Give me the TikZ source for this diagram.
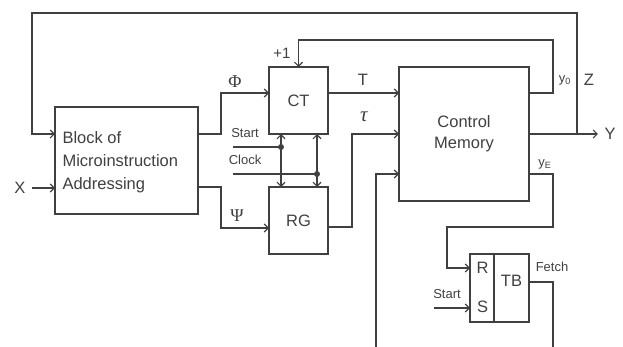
\documentclass[tikz,border=0pt]{standalone}
\usepackage{fontspec}
\setmainfont{Liberation Sans}
\newfontfamily\grkfont{Liberation Serif}
\usetikzlibrary{arrows.meta,calc,positioning}

\begin{document}
\begin{tikzpicture}[x=1pt,y=-1pt,>={Straight Barb[length=4pt,width=8pt]},
  line width=1.1pt,color=black!75,
  blk/.style={draw,minimum width=59pt,minimum height=67pt,inner sep=0pt,outer sep=0pt,
    font=\fontsize{16.5}{21}\selectfont},
  lbl/.style={inner sep=0pt,font=\fontsize{16.5}{21}\selectfont},
  grk/.style={inner sep=0pt,font=\grkfont\fontsize{18}{20}\selectfont},
  sml/.style={inner sep=0pt,font=\fontsize{13}{15}\selectfont}]
  \useasboundingbox (0,0) rectangle (623,347);
  % blocks
  \node[blk,minimum width=143pt,minimum height=107pt] (bma) at (126.5,160.5) {};
  \node[lbl,anchor=west,align=left,font=\fontsize{16.5}{23}\selectfont] (bmatext) at (62,162)
    {Block of\\Microinstruction\\Addressing};
  \node[blk] (ct) at (298.5,100.5) {CT};
  \node[blk] (rg) at (298.5,220.5) {RG};
  \node[blk,minimum width=130pt,minimum height=134pt,align=center] (cm) at (464,134) {Control\\Memory};
  \node[blk,minimum height=68pt] (tb) at (499.5,288) {};
  \draw ($(tb.north west)+(24,0)$) -- ($(tb.south west)+(24,0)$);
  \node[lbl] (R) at (482.5,268) {R};
  \node[lbl] (S) at (482.5,307) {S};
  \node[lbl] (tbtext) at (511.5,281) {TB};
  % labels
  \node[lbl] (X) at (20,188) {X};
  \node[lbl] (Y) at (610,134) {Y};
  \node[lbl] (Z) at (589,80) {Z};
  \node[lbl,font=\fontsize{15}{17}\selectfont] (plus) at (282,53) {+1};
  \node[grk] (phi) at (235,82) {Φ};
  \node[grk] (psi) at (237,216) {Ψ};
  \node[lbl] (T) at (363,80) {T};
  \node[grk,font=\grkfont\itshape\fontsize{21}{22}\selectfont] (tau) at (364,117) {τ};
  \node[sml] (start) at (245,133) {Start};
  \node[sml] (clock) at (245,160) {Clock};
  \node[sml] (start2) at (447,294) {Start};
  \node[sml] (fetch) at (552,267) {Fetch};
  \node[sml] (y0) at (565,80) {y\textsubscript{0}};
  \node[sml] (yE) at (545,164) {y\textsubscript{E}};
  % connectors
  \coordinate (zj) at (577,134);
  \coordinate (tl) at (32,13);
  \draw[->,shorten >=6pt] (cm.east) -- (Y.west);
  \draw[->] (zj) |- (tl) |- (bma.west |- zj);
  \draw[->,shorten <=6pt] (X.east) -- (bma.west |- X);
  \coordinate (px) at (221,134);
  \coordinate (sx) at (221,187);
  \draw[->] (bma.east |- px) -- (px) |- ($(ct.west)+(0,-7.5)$);
  \draw[->] (bma.east |- sx) -- (sx) |- ($(rg.west)+(0,7.5)$);
  \draw[->] ($(ct.east)+(0,-7.5)$) -- ($(cm.west)+(0,-41)$);
  \coordinate (tx) at (352,134);
  \draw[->] ($(rg.east)+(0,6.5)$) -| (tx) -- (cm.west);
  \coordinate (lp) at (553,40);
  \draw[->] ($(cm.east)+(0,-41)$) -| (lp) -| (ct.north);
  \coordinate (ye1) at (553,227);
  \coordinate (ye2) at (447,268);
  \draw[->] ($(cm.east)+(0,40)$) -| (ye1) -| (ye2) -- (tb.west |- ye2);
  \draw ($(tb.east)+(0,-6)$) -| (553,347);
  \coordinate (mb) at (376,347);
  \draw[->] (mb) |- ($(cm.west)+(0,40)$);
  \draw[->] (434,308) -- ($(tb.west)+(0,20)$);
  % start and clock lines
  \coordinate (va) at ($(ct.south west)+(12,0)$);
  \coordinate (vb) at ($(ct.south east)+(-11,0)$);
  \coordinate (sl) at (233,147);
  \coordinate (cl) at (233,174);
  \draw[<->] (va) -- (va |- rg.north);
  \draw[<->] (vb) -- (vb |- rg.north);
  \draw (sl) -- (sl -| va);
  \draw (cl) -- (cl -| vb);
  \fill (sl -| va) circle[radius=3pt];
  \fill (cl -| vb) circle[radius=3pt];
\end{tikzpicture}
\end{document}
